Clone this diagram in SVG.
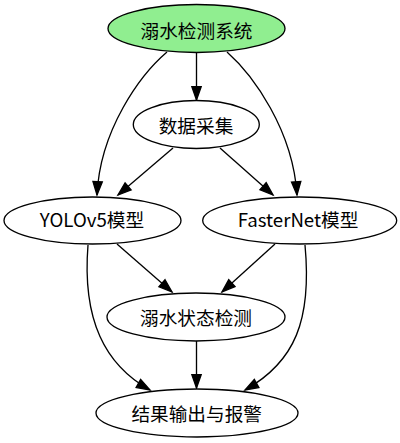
<svg xmlns="http://www.w3.org/2000/svg" width="400" height="443" viewBox="0 0 400 443">
<style>
.node ellipse{fill:#ffffff;stroke:#000000;stroke-width:1.33}
.node text{font-family:"Noto Sans CJK SC","DejaVu Sans",sans-serif;font-size:18.67px;fill:#000000;text-anchor:middle}
.edges path{fill:none;stroke:#000000;stroke-width:1.33;marker-end:url(#arr)}
</style>
<defs>
<marker id="arr" markerUnits="userSpaceOnUse" markerWidth="14" markerHeight="10" refX="13.3" refY="4.67" orient="auto" overflow="visible">
<path d="M0,0 L13.3,4.67 L0,9.33 Z" fill="#000000" stroke="#000000" stroke-width="1.33"/>
</marker>
</defs>
<rect width="400" height="443" fill="#ffffff"/>
<g class="edges">
<path d="M196.5,52.7 L196.5,100"/>
<path d="M167,52 C140,75 100,130 97,195"/>
<path d="M227,52 C253,75 293,130 297,195"/>
<path d="M173,148 L118,195"/>
<path d="M220,148 L273,195"/>
<path d="M117,244 L172,292"/>
<path d="M275,244 L222,292"/>
<path d="M196.5,341 L196.5,388"/>
<path d="M88,245 C82,320 105,365 150,390"/>
<path d="M305,245 C312,320 295,362 245,390"/>
</g>
<g id="node-top" class="node">
<ellipse cx="196.5" cy="28.5" rx="88.5" ry="24" style="fill:#90ee90"/>
<text x="196.5" y="38">溺水检测系统</text>
</g>
<g id="node-data" class="node">
<ellipse cx="196.3" cy="124.5" rx="63" ry="24"/>
<text x="196" y="133">数据采集</text>
</g>
<g id="node-yolo" class="node">
<ellipse cx="92.5" cy="220.5" rx="88.5" ry="23.5"/>
<text x="92" y="227">YOLOv5模型</text>
</g>
<g id="node-faster" class="node">
<ellipse cx="299.7" cy="220.5" rx="97" ry="23.5"/>
<text x="298" y="227">FasterNet模型</text>
</g>
<g id="node-state" class="node">
<ellipse cx="196" cy="317" rx="89" ry="24"/>
<text x="196" y="325">溺水状态检测</text>
</g>
<g id="node-result" class="node">
<ellipse cx="197" cy="413" rx="101" ry="24"/>
<text x="196.7" y="421">结果输出与报警</text>
</g>
</svg>
